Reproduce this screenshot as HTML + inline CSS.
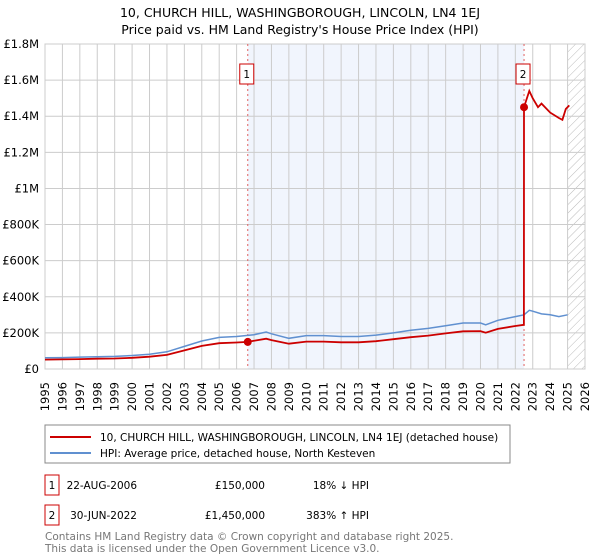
<!DOCTYPE html>
<html><head><meta charset="utf-8"><style>
body{margin:0;background:#fff;font-family:"DejaVu Sans","Liberation Sans",sans-serif;}
#wrap{position:relative;width:600px;height:560px;overflow:hidden}
svg text{font-family:"DejaVu Sans","Liberation Sans",sans-serif}
</style></head><body><div id="wrap">
<svg id="chart" width="600" height="560">
<text x="300" y="17" text-anchor="middle" font-size="12.5" fill="#000">10, CHURCH HILL, WASHINGBOROUGH, LINCOLN, LN4 1EJ</text>
<text x="300" y="34" text-anchor="middle" font-size="12.5" fill="#000">Price paid vs. HM Land Registry's House Price Index (HPI)</text>
<defs><pattern id="hatch" width="6" height="6" patternUnits="userSpaceOnUse" patternTransform="rotate(45)"><line x1="0" y1="0" x2="0" y2="6" stroke="#bbb" stroke-width="1"/></pattern></defs>
<g id="grid"></g><g id="marks"></g>
<rect x="45" y="425" width="465" height="38" fill="none" stroke="#888"/>
<line x1="50" y1="437" x2="91" y2="437" stroke="#cc0000" stroke-width="2"/>
<text x="100" y="441" font-size="10.5">10, CHURCH HILL, WASHINGBOROUGH, LINCOLN, LN4 1EJ (detached house)</text>
<line x1="50" y1="453" x2="91" y2="453" stroke="#6090d0" stroke-width="2"/>
<text x="100" y="457" font-size="10.5">HPI: Average price, detached house, North Kesteven</text>
<rect x="45" y="475" width="14" height="20" fill="none" stroke="#cc0000"/>
<text x="52" y="489" font-size="10.5" text-anchor="middle">1</text>
<text x="137" y="489" font-size="10.5" text-anchor="end">22-AUG-2006</text>
<text x="265" y="489" font-size="10.5" text-anchor="end">£150,000</text>
<text x="369" y="489" font-size="10.5" text-anchor="end">18% ↓ HPI</text>
<rect x="45" y="505" width="14" height="20" fill="none" stroke="#cc0000"/>
<text x="52" y="519" font-size="10.5" text-anchor="middle">2</text>
<text x="137" y="519" font-size="10.5" text-anchor="end">30-JUN-2022</text>
<text x="265" y="519" font-size="10.5" text-anchor="end">£1,450,000</text>
<text x="369" y="519" font-size="10.5" text-anchor="end">383% ↑ HPI</text>
<text x="45" y="540" font-size="10.5" fill="#777">Contains HM Land Registry data © Crown copyright and database right 2025.</text>
<text x="45" y="552" font-size="10.5" fill="#777">This data is licensed under the Open Government Licence v3.0.</text>
</svg></div>
<script>
const yTicks=[0,200000,400000,600000,800000,1000000,1200000,1400000,1600000,1800000];
const yTickLabels=["£0","£200K","£400K","£600K","£800K","£1M","£1.2M","£1.4M","£1.6M","£1.8M"];
const xYears=[1995,1996,1997,1998,1999,2000,2001,2002,2003,2004,2005,2006,2007,2008,2009,2010,2011,2012,2013,2014,2015,2016,2017,2018,2019,2020,2021,2022,2023,2024,2025,2026];
const hpiT=[1995,1996,1997,1998,1999,2000,2001,2002,2003,2004,2005,2006,2007,2007.7,2008,2009,2010,2011,2012,2013,2014,2015,2016,2017,2018,2019,2020,2020.3,2021,2022,2022.5,2022.8,2023,2023.5,2024,2024.5,2025];
const hpiV=[62000,63000,66000,68000,70000,75000,82000,95000,125000,155000,175000,180000,190000,205000,195000,170000,185000,185000,180000,180000,188000,200000,215000,225000,240000,255000,255000,245000,270000,290000,300000,325000,320000,305000,300000,290000,300000];
const propT=[1995,1996,1997,1998,1999,2000,2001,2002,2003,2004,2005,2006,2006.64,2007,2007.7,2008,2009,2010,2011,2012,2013,2014,2015,2016,2017,2018,2019,2020,2020.3,2021,2022,2022.49,2022.5,2022.8,2023,2023.3,2023.5,2024,2024.5,2024.7,2024.9,2025.1];
const propV=[52000,53000,55000,57000,58000,62000,68000,78000,103000,128000,143000,147000,150000,156000,168000,160000,140000,152000,152000,148000,148000,154000,165000,176000,185000,197000,209000,210000,201000,222000,238000,245000,1450000,1540000,1500000,1450000,1470000,1420000,1390000,1380000,1440000,1460000];
const sales=[{n:"1",t:2006.64,v:150000},{n:"2",t:2022.5,v:1450000}];
const L=45,R=585,T=44,B=369;
const X=t=>L+(t-1995)/(2026-1995)*(R-L);
const Y=v=>B-v/1800000*(B-T);
const NS="http://www.w3.org/2000/svg";
function mk(p,tag,a){const e=document.createElementNS(NS,tag);for(const k in a)e.setAttribute(k,a[k]);p.appendChild(e);return e;}
const g=document.getElementById('grid'),m=document.getElementById('marks');
let bg=mk(g,'rect',{x:X(sales[0].t),y:T,width:X(sales[1].t)-X(sales[0].t),height:B-T,fill:'#eef3fc',opacity:0.8});


let ht=mk(g,'rect',{x:X(2025),y:T,width:R-X(2025),height:B-T,fill:'url(#hatch)'});


xYears.forEach(y=>{let l=mk(g,'line',{x1:X(y),x2:X(y),y1:T,y2:B,stroke:'#ccc'});


const tx=X(y)+4,ty=382;
let t=mk(g,'text',{x:tx,y:ty,'text-anchor':'end','font-size':'11.5',transform:'rotate(-90 '+tx+' '+ty+')'});t.textContent=y;

});
yTicks.forEach((v,i)=>{let l=mk(g,'line',{x1:L,x2:R,y1:Y(v),y2:Y(v),stroke:'#ccc'});


let t=mk(g,'text',{x:39,y:Y(v)+4,'text-anchor':'end','font-size':'11.5'});t.textContent=yTickLabels[i];

});
let ax=mk(g,'rect',{x:L,y:T,width:R-L,height:B-T,fill:'none',stroke:'#ccc'});


sales.forEach(s=>{let l=mk(m,'line',{x1:X(s.t),x2:X(s.t),y1:T,y2:B,stroke:'#e06060','stroke-dasharray':'2,3'});


let r=mk(m,'rect',{x:X(s.t)-8,y:64,width:14,height:20,fill:'#fff',stroke:'#cc0000'});


let t=mk(m,'text',{x:X(s.t)-1,y:78,'text-anchor':'middle','font-size':'10.5'});t.textContent=s.n;

});
const pts=(ts,vs)=>ts.map((t,i)=>X(t).toFixed(1)+','+Y(vs[i]).toFixed(1)).join(' ');
let hp=mk(m,'polyline',{points:pts(hpiT,hpiV),fill:'none',stroke:'#6090d0','stroke-width':1.5});


let pp=mk(m,'polyline',{points:pts(propT,propV),fill:'none',stroke:'#cc0000','stroke-width':1.8});


sales.forEach(s=>{let c=mk(m,'circle',{cx:X(s.t),cy:Y(s.v),r:4,fill:'#cc0000'});

});
</script></body></html>
